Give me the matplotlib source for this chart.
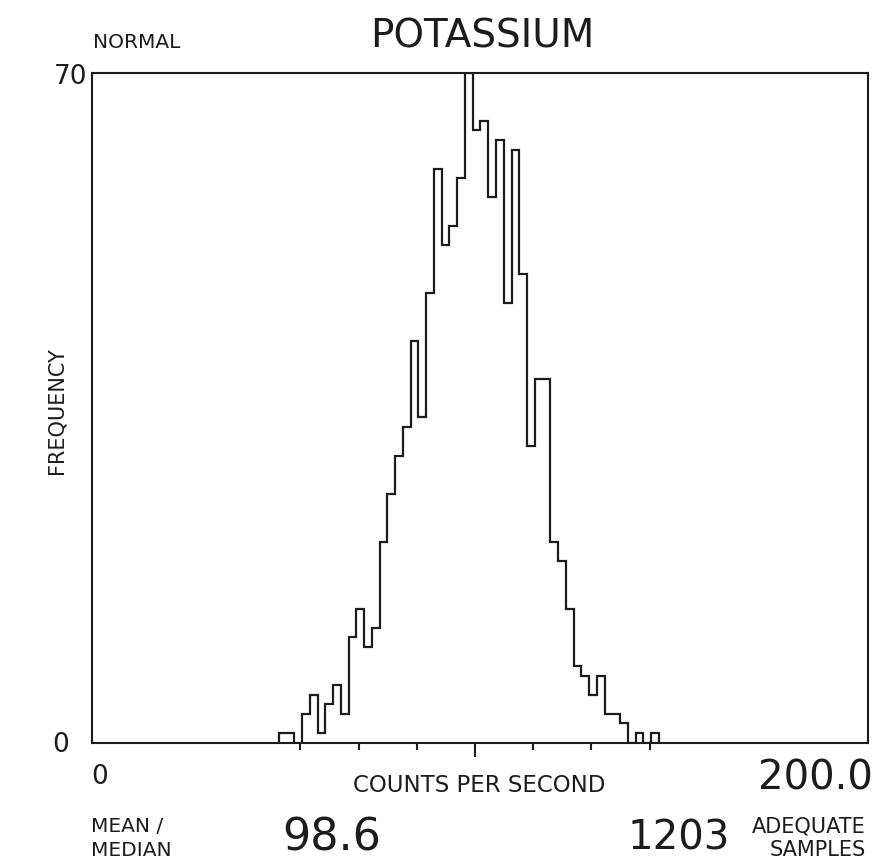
import numpy as np
import matplotlib
matplotlib.use('Agg')
import matplotlib.pyplot as plt

# histogram data (2-unit bins starting at 48 counts/s)
bin_start = 48
bin_width = 2
counts = [1, 1, 0, 3, 5, 1, 4, 6, 3, 11,
          14, 10, 12, 21, 26, 30, 33, 42, 34, 47,
          60, 52, 54, 59, 70, 64, 65, 57, 63, 46,
          62, 49, 31, 38, 38, 21, 19, 14, 8, 7,
          5, 7, 3, 3, 2, 0, 1, 0, 1]
mean_value = 98.6
tick_step = 15.0  # spacing of the small marks around the mean
n_samples = 1203
x_max = 200.0
y_max = 70

W, H = 895, 863
ink = '#1c1c1c'

def px(x, y):  # pixel position -> figure fraction
    return x / W, 1 - y / H

fig = plt.figure(figsize=(W / 100, H / 100), dpi=100)
ax = fig.add_axes([92.5 / W, 1 - 742.5 / H, 776 / W, 669.5 / H])

edges = bin_start + bin_width * np.arange(len(counts) + 1)
ax.stairs(counts, edges, color=ink, lw=1.6, baseline=0)

ax.set_xlim(0, x_max)
ax.set_ylim(0, y_max)
for s in ax.spines.values():
    s.set_linewidth(1.5)
    s.set_color(ink)

# long mark at the mean, short marks every tick_step either side
ax.set_xticks([mean_value])
ax.set_xticks([mean_value + k * tick_step for k in (-3, -2, -1, 1, 2, 3)], minor=True)
ax.tick_params(axis='x', which='major', direction='out', length=10, width=1.5,
               color=ink, labelbottom=False)
ax.tick_params(axis='x', which='minor', direction='out', length=5, width=1.5,
               color=ink, labelbottom=False)
ax.set_yticks([])

# texts around the frame
fig.text(*px(93, 42), 'NORMAL', fontsize=14.5, ha='left', va='center', color=ink)
fig.text(*px(482, 37), 'POTASSIUM', fontsize=28, ha='center', va='center', color=ink)
fig.text(*px(71, 77), str(y_max), fontsize=19, ha='center', va='center', color=ink)
fig.text(*px(61, 745), '0', fontsize=19, ha='center', va='center', color=ink)
fig.text(*px(57, 411), 'FREQUENCY', fontsize=15, ha='center', va='center',
         rotation=90, color=ink)
fig.text(*px(100, 777), '0', fontsize=19, ha='center', va='center', color=ink)
fig.text(*px(479, 785), 'COUNTS PER SECOND', fontsize=16.5, ha='center', va='center', color=ink)
fig.text(*px(873, 778), f'{x_max:.1f}', fontsize=29, ha='right', va='center', color=ink)

fig.text(*px(91, 826), 'MEAN /', fontsize=14.5, ha='left', va='center', color=ink)
fig.text(*px(91, 850), 'MEDIAN', fontsize=14.5, ha='left', va='center', color=ink)
fig.text(*px(282, 838), f'{mean_value:.1f}', fontsize=32, ha='left', va='center', color=ink)
fig.text(*px(730, 838), str(n_samples), fontsize=29, ha='right', va='center', color=ink)
fig.text(*px(866, 826), 'ADEQUATE', fontsize=15, ha='right', va='center', color=ink)
fig.text(*px(866, 850), 'SAMPLES', fontsize=15, ha='right', va='center', color=ink)

fig.savefig('out.png', dpi=100)
